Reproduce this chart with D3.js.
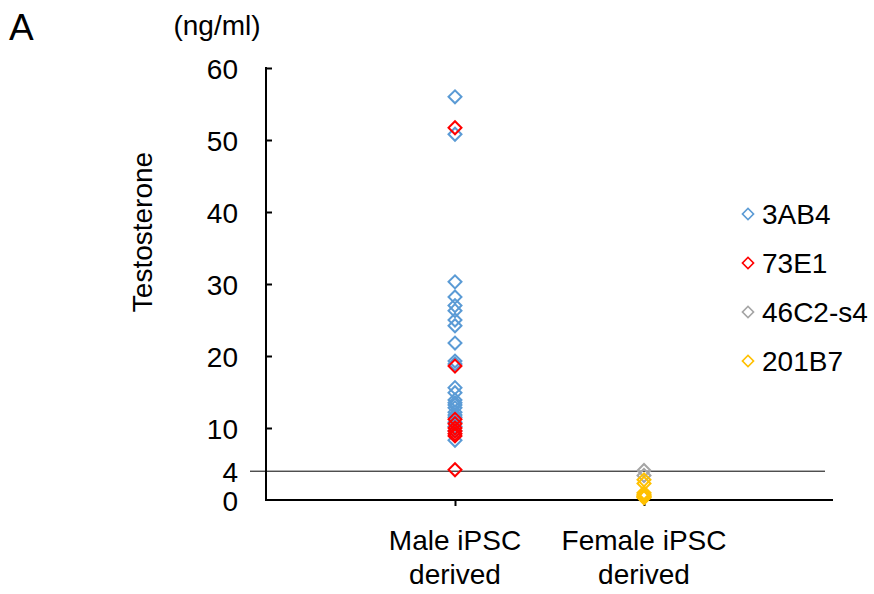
<!DOCTYPE html>
<html>
<head>
<meta charset="utf-8">
<script src="https://cdn.jsdelivr.net/npm/d3@7"></script>
<style>
  body { margin: 0; background: #fff; }
  text { font-family: "Liberation Sans", Arial, sans-serif; fill: #000; }
</style>
</head>
<body>
<svg id="chart"></svg>
<script>
// values (ng/ml)
var categories = ['Male iPSC derived', 'Female iPSC derived'];
var yTicks = [0, 4, 10, 20, 30, 40, 50, 60];
var threshold = 4;

var series = ['3AB4', '73E1', '46C2-s4', '201B7'];
var colors = ['#5B9BD5', '#FF0000', '#A5A5A5', '#FFC000'];

// category index: 1 = male, 2 = female
var vals3AB4 = [56.0, 50.8, 30.3, 28.2, 27.0, 26.3, 25.0, 24.2, 21.8, 19.3, 18.9,
    15.6, 14.9, 13.9, 13.5, 13.2, 12.8, 12.2, 11.8, 11.5, 10.8, 10.2, 9.6, 8.3];
var vals73E1 = [51.7, 18.6, 11.2, 10.6, 10.0, 9.6, 9.2, 8.9, 4.2];
var vals46C2 = [4.1, 3.4];
var vals201B7 = [2.8, 2.3, 1.0, 0.8, 0.6, 0.5, 0.4, 0.3];

var seriesValues = [vals3AB4, vals73E1, vals46C2, vals201B7];
var seriesCategory = [1, 1, 2, 2];

var width = 874, height = 594;
var fontSize = '28px';
var svg = d3.select('#chart')
    .attr('width', width)
    .attr('height', height);

var x = d3.scaleLinear().domain([0, 3]).range([266, 833]);
var y = d3.scaleLinear().domain([0, 60]).range([500, 68]);

// threshold line at 4
svg.append('line')
    .attr('x1', 250)
    .attr('x2', 825)
    .attr('y1', y(threshold))
    .attr('y2', y(threshold))
    .attr('stroke', '#000')
    .attr('stroke-width', 1);

// y axis
var yAxis = d3.axisLeft(y)
    .tickValues(yTicks)
    .tickSize(-6)
    .tickPadding(28)
    .tickFormat(d3.format('d'));

var gy = svg.append('g')
    .attr('transform', 'translate(' + x(0) + ',0)')
    .call(yAxis);
gy.select('.domain').remove();
gy.selectAll('.tick line')
    .attr('stroke', '#000')
    .attr('stroke-width', 2)
    .filter(function(d) { return d < 10; }).remove();
gy.selectAll('.tick text')
    .attr('font-size', fontSize)
    .attr('dy', '0.36em');
gy.append('line')
    .attr('x1', 0).attr('x2', 0)
    .attr('y1', y(60) - 1).attr('y2', y(0) + 1)
    .attr('stroke', '#000')
    .attr('stroke-width', 2);

// x axis
var xAxis = d3.axisBottom(x)
    .tickValues([1, 2])
    .tickSize(6)
    .tickFormat('');
var gx = svg.append('g')
    .attr('transform', 'translate(0,' + y(0) + ')')
    .call(xAxis);
gx.select('.domain').remove();
gx.selectAll('.tick line').attr('stroke', '#000').attr('stroke-width', 2);
gx.append('line')
    .attr('x1', x(0) - 1).attr('x2', x(3))
    .attr('y1', 0).attr('y2', 0)
    .attr('stroke', '#000')
    .attr('stroke-width', 2);

// category labels, two lines each
categories.forEach(function(c, i) {
    var words = c.split(' ');
    var t = svg.append('text')
        .attr('text-anchor', 'middle')
        .attr('font-size', fontSize)
        .attr('x', x(i + 1))
        .attr('y', 550);
    t.append('tspan').attr('x', x(i + 1)).text(words.slice(0, 2).join(' '));
    t.append('tspan').attr('x', x(i + 1)).attr('dy', 34).text(words.slice(2).join(' '));
});

// points
var diamond = d3.symbol().type(d3.symbolSquare).size(84);
seriesValues.forEach(function(vals, s) {
    svg.append('g')
        .selectAll('path')
        .data(vals)
        .join('path')
        .attr('d', diamond)
        .attr('transform', function(d) {
            return 'translate(' + x(seriesCategory[s]) + ',' + y(d) + ') rotate(45)';
        })
        .attr('fill', 'none')
        .attr('stroke', colors[s])
        .attr('stroke-width', 2);
});

// legend
var legend = svg.append('g');
series.forEach(function(name, i) {
    var ly = 214 + i * 49;
    legend.append('path')
        .attr('d', d3.symbol().type(d3.symbolSquare).size(62))
        .attr('transform', 'translate(748,' + ly + ') rotate(45)')
        .attr('fill', 'none')
        .attr('stroke', colors[i])
        .attr('stroke-width', 1.6);
    legend.append('text')
        .attr('x', 762)
        .attr('y', ly)
        .attr('dy', '0.36em')
        .attr('font-size', fontSize)
        .text(name);
});

// titles
svg.append('text')
    .attr('transform', 'translate(152,232) rotate(-90)')
    .attr('text-anchor', 'middle')
    .attr('font-size', fontSize)
    .text('Testosterone');

svg.append('text')
    .attr('x', 217)
    .attr('y', 35)
    .attr('text-anchor', 'middle')
    .attr('font-size', fontSize)
    .text('(ng/ml)');

svg.append('text')
    .attr('x', 9)
    .attr('y', 40)
    .attr('font-size', '37px')
    .text('A');
</script>
</body>
</html>
